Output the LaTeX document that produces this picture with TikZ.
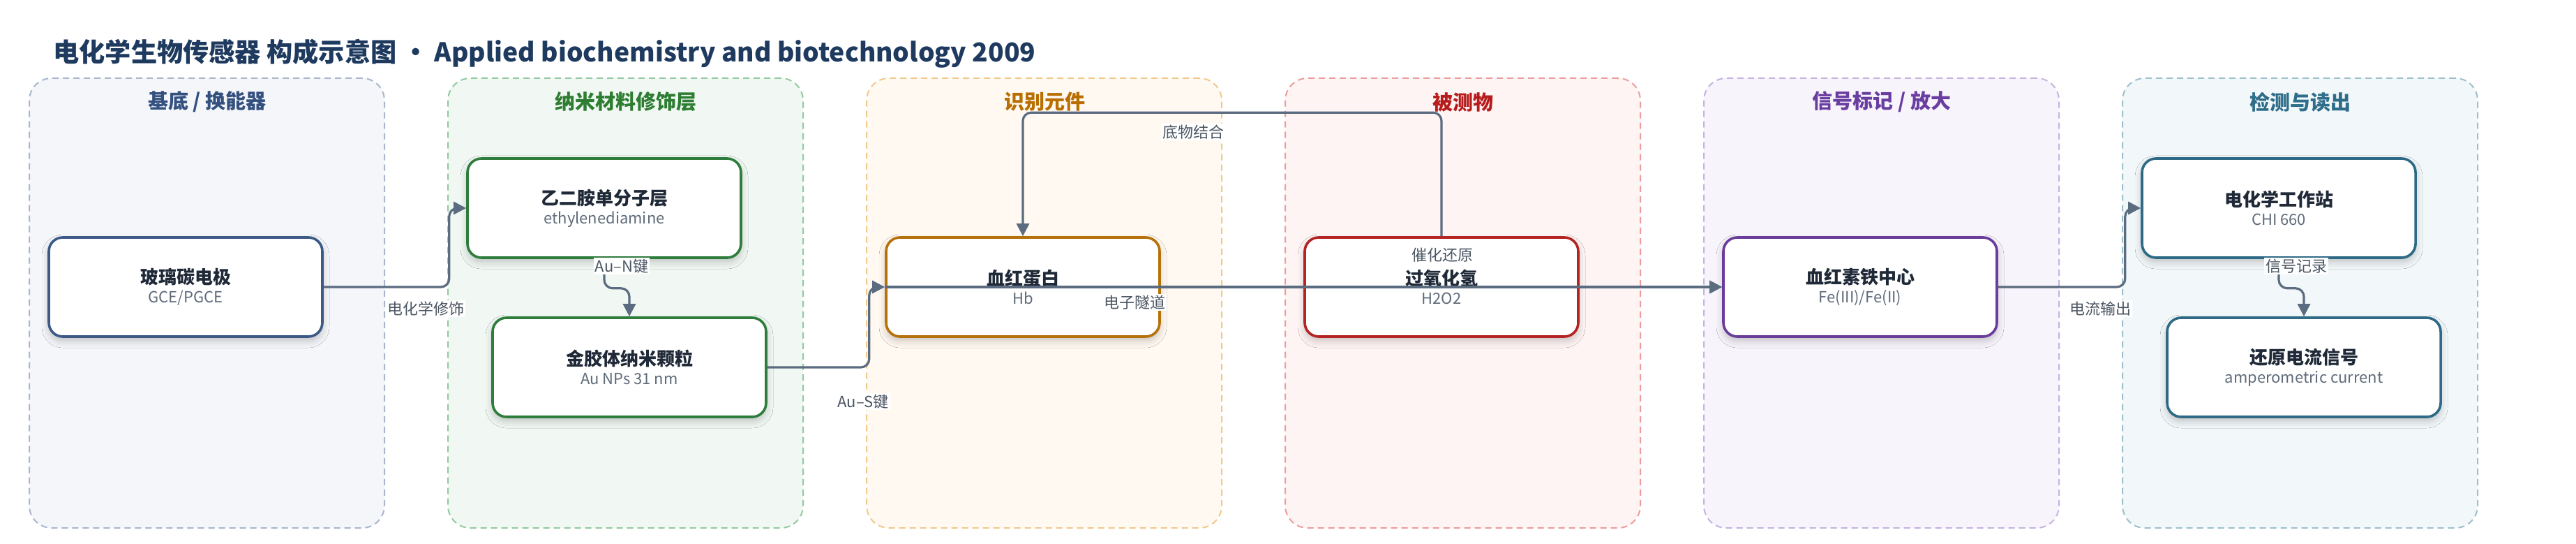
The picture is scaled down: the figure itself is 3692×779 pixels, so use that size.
\documentclass[tikz,border=0pt]{standalone}
\usepackage{fontspec}
\setmainfont{Noto Sans CJK SC}
\usetikzlibrary{arrows.meta,shadows.blur}

\definecolor{titlec}{HTML}{1E3A5F}
\definecolor{edgec}{HTML}{5B6B80}
\definecolor{headc}{HTML}{1F2937}
\definecolor{subc}{HTML}{5F6B7A}
\definecolor{labc}{HTML}{4B5563}
% panel colours: border, fill, title, box
\definecolor{baseB}{HTML}{A9B6CC}\definecolor{baseF}{HTML}{F4F6FA}\definecolor{baseT}{HTML}{34507F}\definecolor{baseN}{HTML}{3D5A87}
\definecolor{nanoB}{HTML}{93C9A0}\definecolor{nanoF}{HTML}{F1F8F3}\definecolor{nanoT}{HTML}{2E7D32}\definecolor{nanoN}{HTML}{2E7D3C}
\definecolor{recoB}{HTML}{F0C98C}\definecolor{recoF}{HTML}{FFF9F1}\definecolor{recoT}{HTML}{B86E00}\definecolor{recoN}{HTML}{B5720A}
\definecolor{anaB}{HTML}{EC9C9C}\definecolor{anaF}{HTML}{FFF4F4}\definecolor{anaT}{HTML}{B71C1C}\definecolor{anaN}{HTML}{B42424}
\definecolor{sigB}{HTML}{C5B3E0}\definecolor{sigF}{HTML}{F7F4FB}\definecolor{sigT}{HTML}{6A3EA1}\definecolor{sigN}{HTML}{6A3D9A}
\definecolor{detB}{HTML}{9EC0CC}\definecolor{detF}{HTML}{F2F7F9}\definecolor{detT}{HTML}{2F6E8A}\definecolor{detN}{HTML}{2E6A85}

\newcommand{\boxtext}[2]{{\fontsize{13}{16.5}\selectfont\bfseries\color{headc}#1}\\[-3pt]{\color{subc}#2}}

\begin{document}
\begin{tikzpicture}[x=0.5pt,y=-0.5pt,
    panel/.style 2 args={draw=#1,fill=#2,dash pattern=on 4.5pt off 3pt,line width=1pt,rounded corners=16pt,minimum width=254.5pt,minimum height=322pt},
    head/.style={font=\fontsize{14.5}{17}\selectfont\bfseries,text=#1},
    box/.style={draw=#1,fill=white,line width=1.8pt,rounded corners=10pt,minimum width=196pt,minimum height=71pt,align=center,font=\fontsize{11}{16.5}\selectfont,
      blur shadow={shadow xshift=0pt,shadow yshift=-3pt,shadow blur radius=5pt,shadow opacity=22}},
    edge/.style={draw=edgec,line width=1.6pt,rounded corners=6pt,-{Triangle[length=9pt,width=9pt]}},
    lab/.style={fill=white,inner sep=1pt,text=labc,font=\fontsize{11}{13}\selectfont}]
  \fill[white] (0,0) rectangle (3692,779);
  \useasboundingbox (0,0) rectangle (3692,779);

  % Title
  \node[anchor=west,inner sep=0pt,text=titlec,font=\fontsize{18.6}{22}\selectfont\bfseries] (title) at (76,77) {电化学生物传感器 构成示意图 • Applied biochemistry and biotechnology 2009};

  % Panels
  \node[panel={baseB}{baseF}] (base) at (296.5,434) {};
  \node[panel={nanoB}{nanoF}] (nano) at (896.5,434) {};
  \node[panel={recoB}{recoF}] (reco) at (1496.5,434) {};
  \node[panel={anaB}{anaF}] (ana) at (2096.5,434) {};
  \node[panel={sigB}{sigF}] (sig) at (2696.5,434) {};
  \node[panel={detB}{detF}] (det) at (3296.5,434) {};

  \node[head=baseT] (baseh) at (297,146) {基底 / 换能器};
  \node[head=nanoT] (nanoh) at (897,146) {纳米材料修饰层};
  \node[head=recoT] (recoh) at (1497,146) {识别元件};
  \node[head=anaT] (anah) at (2097,146) {被测物};
  \node[head=sigT] (sigh) at (2697,146) {信号标记 / 放大};
  \node[head=detT] (deth) at (3297,146) {检测与读出};

  % Boxes
  \node[box=baseN] (gce) at (266,411) {\boxtext{玻璃碳电极}{GCE/PGCE}};
  \node[box=nanoN] (eda) at (866,298) {\boxtext{乙二胺单分子层}{ethylenediamine}};
  \node[box=nanoN] (aunp) at (902,526) {\boxtext{金胶体纳米颗粒}{Au NPs 31 nm}};
  \node[box=recoN] (hb) at (1466,411) {\boxtext{血红蛋白}{Hb}};
  \node[box=anaN] (hoo) at (2066,411) {\boxtext{过氧化氢}{H2O2}};
  \node[box=sigN] (heme) at (2666,411) {\boxtext{血红素铁中心}{Fe(III)/Fe(II)}};
  \node[box=detN] (chi) at (3266,298) {\boxtext{电化学工作站}{CHI 660}};
  \node[box=detN] (amp) at (3302,526) {\boxtext{还原电流信号}{amperometric current}};

  % Connectors
  \draw[edge] (gce.east) -- ++(180,0) |- (eda.west);
  \draw[edge] (eda.south) -- ++(0,42) -| (aunp.north);
  \draw[edge] (aunp.east) -- ++(146,0) |- (hb.west);
  \draw[edge] (hoo.north) -- ++(0,-177) -| (hb.north);
  \draw[edge] (hb.west) -- (heme.west);
  \draw[edge] (hoo) -- (heme.west);
  \draw[edge] (heme.east) -- ++(182,0) |- (chi.west);
  \draw[edge] (chi.south) -- ++(0,42) -| (amp.north);

  % Labels
  \node[lab] at (610,442) {电化学修饰};
  \node[lab] at (891,381) {Au–N键};
  \node[lab] at (1237,575) {Au–S键};
  \node[lab] at (1710,189) {底物结合};
  \node[lab] at (1626,433) {电子隧道};
  \node[lab] at (2067,365) {催化还原};
  \node[lab] at (3010,442) {电流输出};
  \node[lab] at (3291,381) {信号记录};
\end{tikzpicture}
\end{document}
